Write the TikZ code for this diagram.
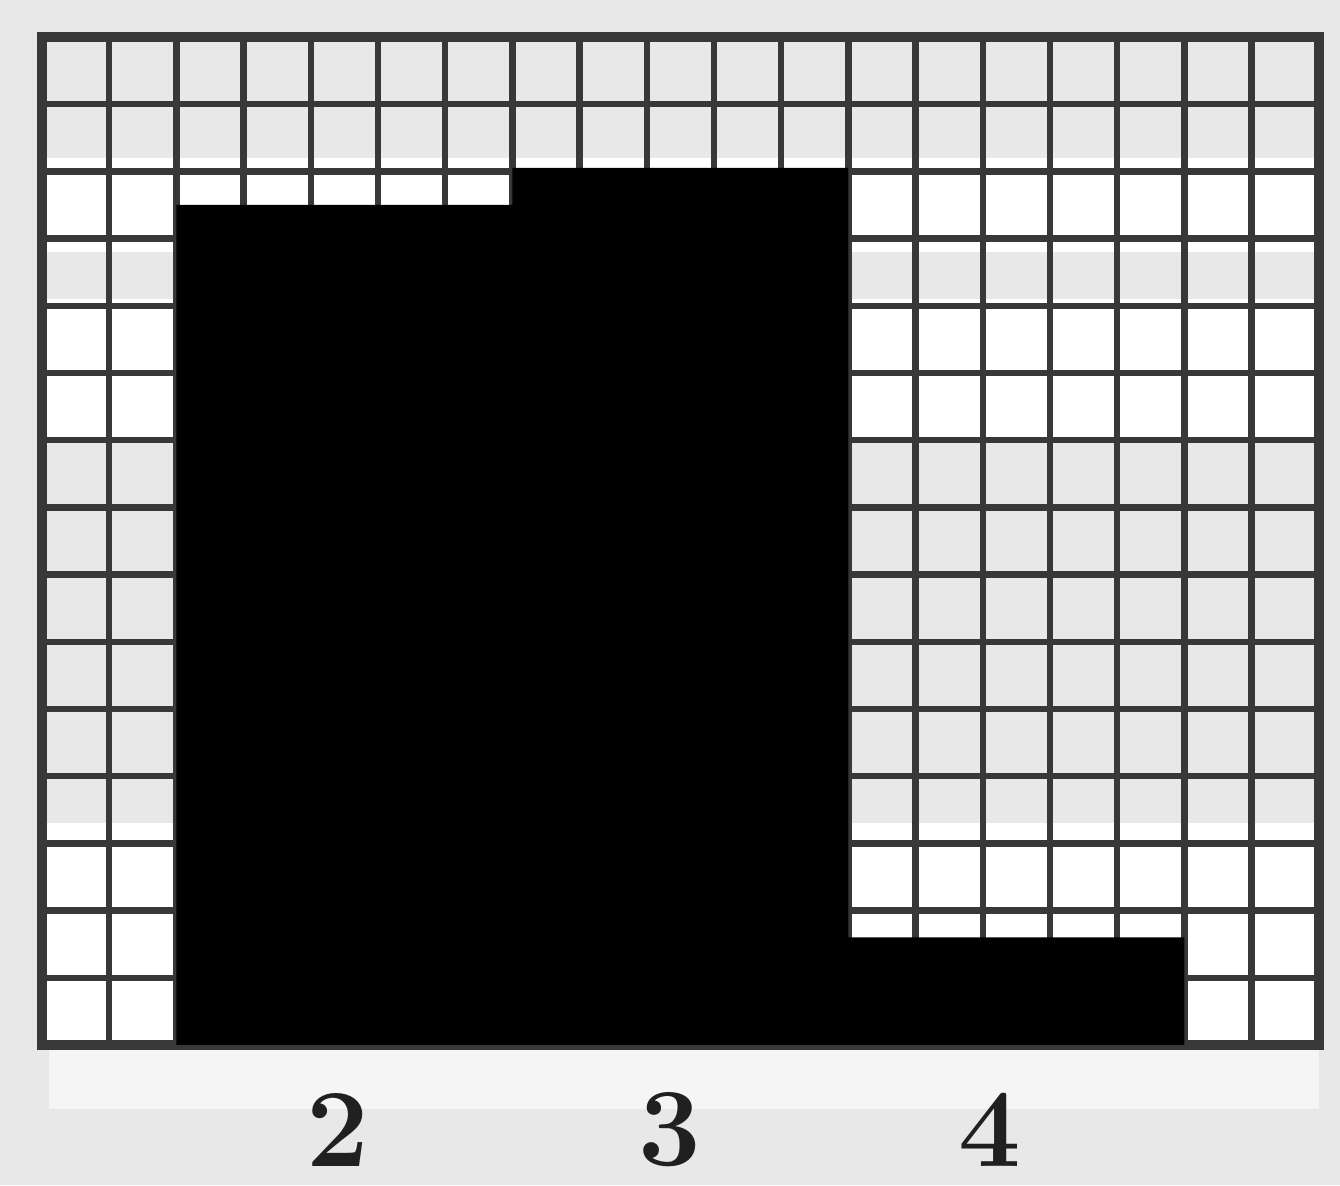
\documentclass[tikz,border=0pt]{standalone}
\usepackage{xcolor}
\usetikzlibrary{positioning}
\definecolor{paper}{gray}{0.91}
\definecolor{gridline}{gray}{0.22}
\tikzset{numlabel/.style={font=\fontsize{66}{66}\selectfont\bfseries,text=gray!25!black}}

\begin{document}
\begin{tikzpicture}[x=1.4cm,y=1.4cm]
    \useasboundingbox (-0.625,-2.09) rectangle (19.315,15.55);
    \fill[paper] (-0.625,-2.09) rectangle (19.315,15.55);
    % brighter bands of the sheet
    \fill[white] (0,11.8) rectangle (19,13.2);
    \fill[white] (0,9) rectangle (19,11.1);
    \fill[white] (0,0) rectangle (19,3.3);
    \fill[white!92!gray] (0.1,-0.95) rectangle (19,-0.05);
    % grid
    \foreach \x in {0,...,19}
      \draw[gridline,line width=3.8pt] (\x,0) -- (\x,15);
    \foreach \y in {0,...,15}
      \draw[gridline,line width=3.8pt] (0,\y) -- (19,\y);
    \draw[gridline,line width=6pt] (0,0) rectangle (19,15);
    % dark patch
    \fill[black] (2,0) -- (2,12.5) -- (7,12.5) -- (7,13.05) -- (12,13.05)
      -- (12,1.6) -- (17,1.6) -- (17,0) -- cycle;
    \node[numlabel] (lbl2) at (4.4,-1.26) {2};
    \node[numlabel] (lbl3) at (9.35,-1.26) {3};
    \node[numlabel] (lbl4) at (14.1,-1.26) {4};
\end{tikzpicture}
\end{document}
